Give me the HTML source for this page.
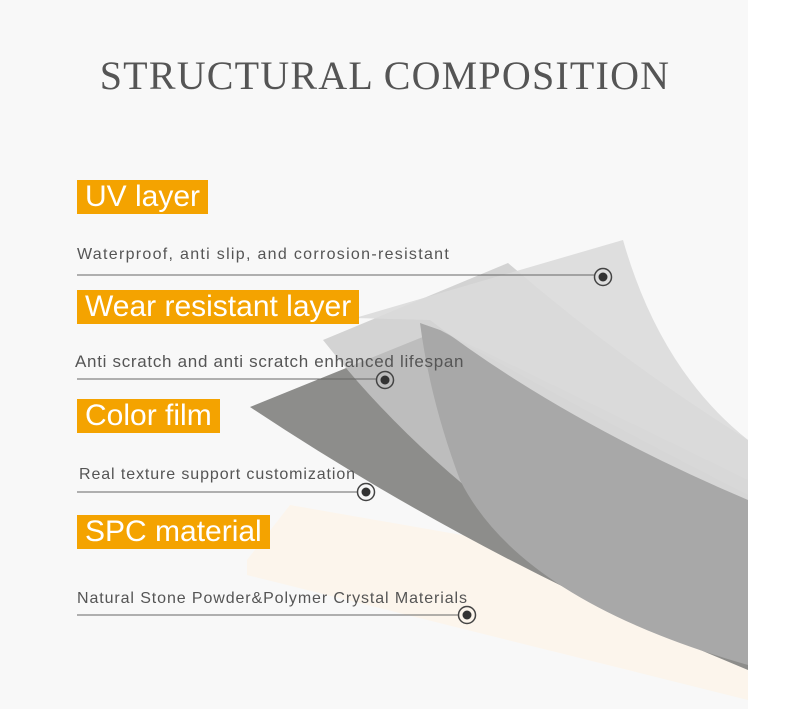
<!DOCTYPE html>
<html><head><style>
body{margin:0;width:789px;height:709px;background:#f8f8f8;position:relative;overflow:hidden;font-family:"Liberation Sans",sans-serif}
.t{position:absolute;left:0;top:0}
.title{position:absolute;left:0;width:770px;text-align:center;top:52px;font-family:"Liberation Serif",serif;font-size:40px;color:#555;letter-spacing:1.2px}
.lab{position:absolute;left:77px;background:#f4a300;color:#fff;font-size:30px;padding:0 8px;height:34px;line-height:34px}
.d{position:absolute;left:77px;font-size:16px;color:#555}
</style></head><body>
<svg class="t" width="789" height="709">
<rect x="748" y="0" width="41" height="709" fill="#fff"/>
<polygon points="290,505 748,585 748,700 247,575 247,560" fill="#fcf5ec"/>
<path d="M250,407 L440,330 L748,480 L748,670 Q480,560 250,407Z" fill="#8d8d8b"/>
<path d="M323,340 L508,263 Q620,360 748,440 L748,660 Q480,540 323,340Z" fill="#c9c9c9" opacity="0.8"/>
<path d="M420,323 L440,330 Q600,420 748,495 L748,665 Q520,600 460,480 Q430,400 420,323Z" fill="#a8a8a8"/>
<path d="M355,318 L623,240 Q660,370 748,440 L748,500 Q560,420 430,320Z" fill="#dadada" opacity="0.9"/>
<g stroke="#666" stroke-width="1" fill="none">
<line x1="77" y1="275" x2="595" y2="275"/>
<line x1="77" y1="379" x2="377" y2="379"/>
<line x1="77" y1="492" x2="358" y2="492"/>
<line x1="77" y1="615" x2="459" y2="615"/>
<circle cx="603" cy="277" r="8.5" stroke="#444" stroke-width="1.5"/>
<circle cx="385" cy="380" r="8.5" stroke="#444" stroke-width="1.5"/>
<circle cx="366" cy="492" r="8.5" stroke="#444" stroke-width="1.5"/>
<circle cx="467" cy="615" r="8.5" stroke="#444" stroke-width="1.5"/>
</g>
<g fill="#333"><circle cx="603" cy="277" r="4.5"/><circle cx="385" cy="380" r="4.5"/><circle cx="366" cy="492" r="4.5"/><circle cx="467" cy="615" r="4.5"/></g>
</svg>
<div class="title">STRUCTURAL COMPOSITION</div>
<div class="lab" style="top:180px">UV layer</div>
<div class="d" style="top:246px;letter-spacing:1.3px">Waterproof, anti slip, and corrosion-resistant</div>
<div class="lab" style="top:290px">Wear resistant layer</div>
<div class="d" style="top:352px;font-size:17px;letter-spacing:0.7px;left:75px">Anti scratch and anti scratch enhanced lifespan</div>
<div class="lab" style="top:399px">Color film</div>
<div class="d" style="top:466px;left:79px;letter-spacing:0.9px">Real texture support customization</div>
<div class="lab" style="top:515px">SPC material</div>
<div class="d" style="top:590px;letter-spacing:0.9px">Natural Stone Powder&amp;Polymer Crystal Materials</div>
</body></html>
